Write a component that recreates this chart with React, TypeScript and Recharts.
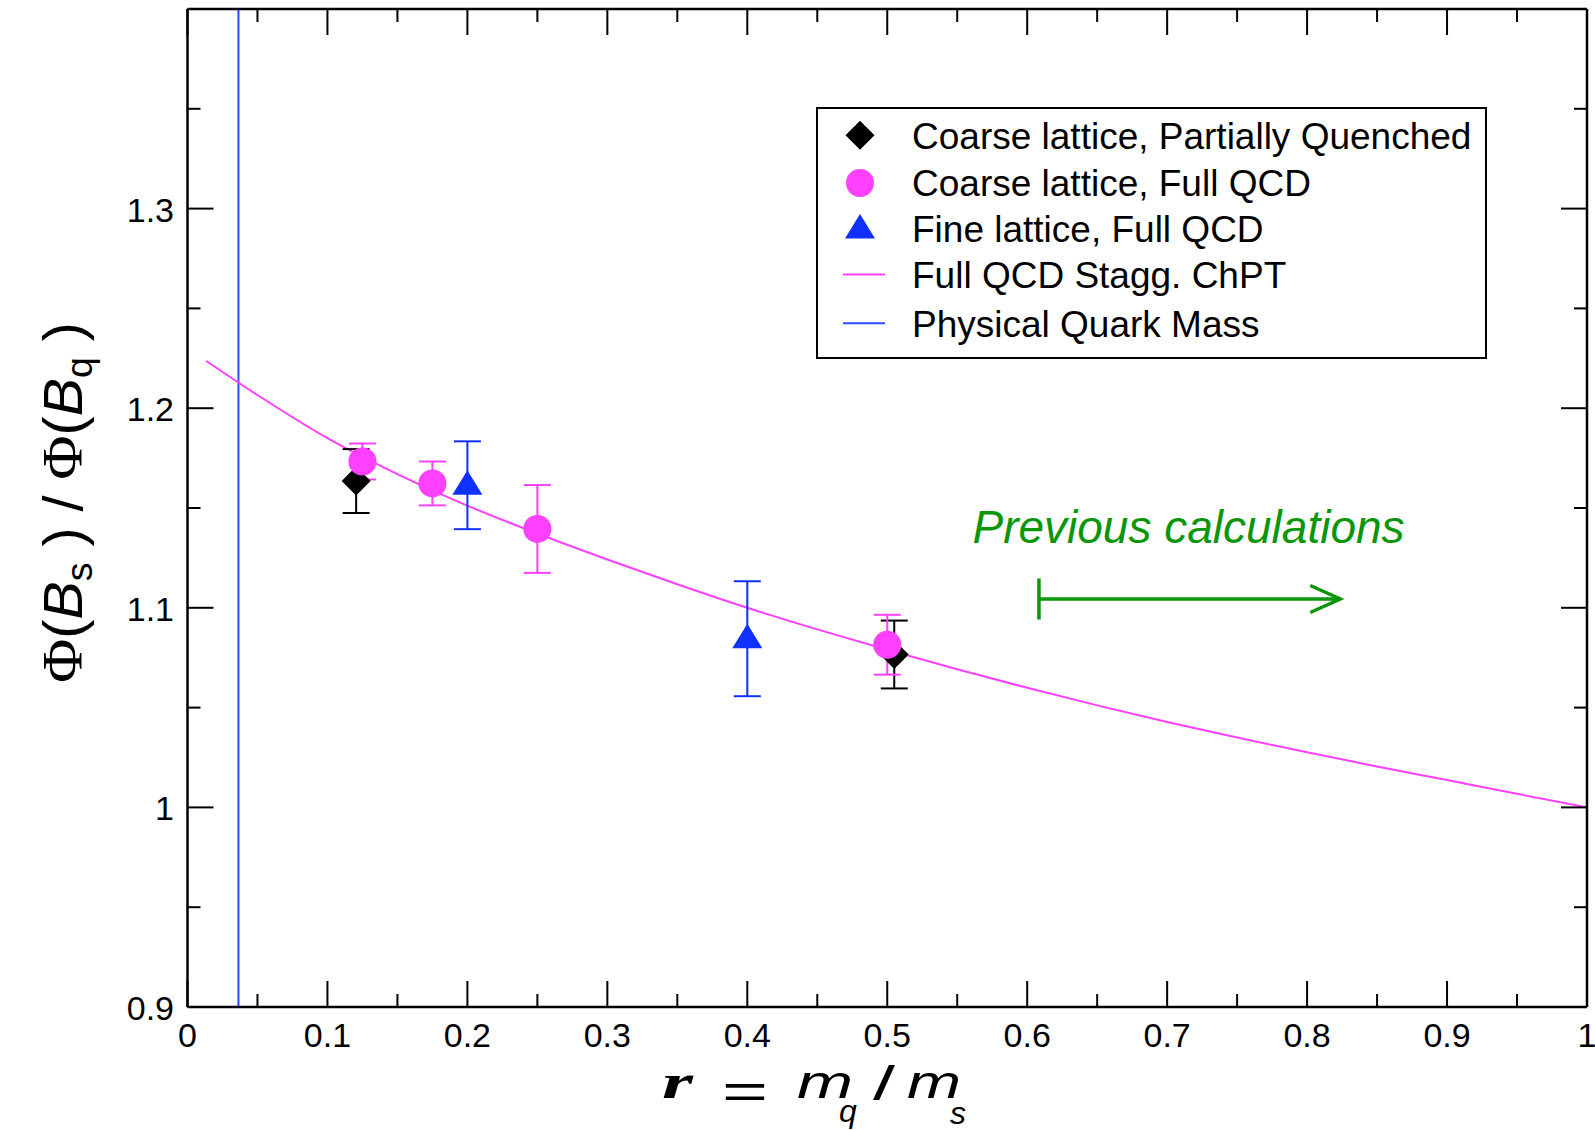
import React from 'react';
import {
  ComposedChart,
  XAxis,
  YAxis,
  Line,
  Scatter,
  ErrorBar,
  ReferenceLine,
  ReferenceDot,
} from 'recharts';

// ---------- data ----------
const xTicks = [0, 0.05, 0.1, 0.15, 0.2, 0.25, 0.3, 0.35, 0.4, 0.45, 0.5, 0.55, 0.6, 0.65, 0.7, 0.75, 0.8, 0.85, 0.9, 0.95, 1];
const xTickLabels = ['0', '0.1', '0.2', '0.3', '0.4', '0.5', '0.6', '0.7', '0.8', '0.9', '1'];
const yTicks = [0.9, 0.95, 1, 1.05, 1.1, 1.15, 1.2, 1.25, 1.3, 1.35, 1.4];
const yTickLabels = ['0.9', '1', '1.1', '1.2', '1.3'];

// Coarse lattice, Partially Quenched
const pqR = [0.1205, 0.505];
const pqY = [1.1635, 1.0766];
const pqErr = [0.016, 0.017];

// Coarse lattice, Full QCD
const fullR = [0.125, 0.175, 0.25, 0.5];
const fullY = [1.1733, 1.1623, 1.1395, 1.0815];
const fullErr = [0.009, 0.011, 0.022, 0.015];

// Fine lattice, Full QCD
const fineR = [0.2, 0.4];
const fineY = [1.1614, 1.0845];
const fineErr = [0.022, 0.0288];

// Full QCD Stagg. ChPT fit curve
const fitR = [0.0134, 0.05, 0.1, 0.15, 0.2, 0.25, 0.3, 0.35, 0.4, 0.45, 0.5, 0.55, 0.6, 0.65, 0.7, 0.75, 0.8, 0.85, 0.9, 0.95, 1.0];
const fitY = [1.2237, 1.2066, 1.185, 1.167, 1.1512, 1.1372, 1.1242, 1.1118, 1.1, 1.0892, 1.079, 1.0692, 1.0599, 1.0511, 1.0428, 1.035, 1.0276, 1.0205, 1.0137, 1.0068, 1.0];

// Physical quark mass
const physR = 0.0364;

// Previous calculations annotation
const prevStartR = 0.6084;
const prevEndR = 0.8237;
const prevY = 1.1044;
const prevTextR = 0.5609;
const prevTextY = 1.1325;

// ---------- build tables ----------
const pqData = pqR.map((r, i) => ({ r, y: pqY[i], err: pqErr[i] }));
const fullData = fullR.map((r, i) => ({ r, y: fullY[i], err: fullErr[i] }));
const fineData = fineR.map((r, i) => ({ r, y: fineY[i], err: fineErr[i] }));
const fitData = fitR.map((r, i) => ({ r, y: fitY[i] }));

const PINK = '#ff40ff';
const BLUE = '#1030ff';
const VBLUE = '#2b4cff';
const GREEN = '#0a960a';
const FONT = '"Liberation Sans", Arial, Helvetica, sans-serif';
const SERIF = '"Liberation Serif", "Times New Roman", serif';

const isMajor = (v: number) => Math.round(v * 100) % 10 === 0;
const xLabelOf = (v: number) => xTickLabels[Math.round(v * 10)];
const yLabelOf = (v: number) => {
  const idx = Math.round((v - 0.9) * 10);
  return idx >= 0 && idx < yTickLabels.length ? yTickLabels[idx] : '';
};

const MAJ = 26;
const MIN = 13;

const BottomTick = (props: any) => {
  const { x, y, payload } = props;
  const v = payload.value;
  const major = isMajor(v);
  return (
    <g>
      <line x1={x} x2={x} y1={y} y2={y - (major ? MAJ : MIN)} stroke="#000" strokeWidth={2} />
      {major && (
        <text x={x} y={y + 40} textAnchor="middle" fontSize={34} fontFamily={FONT} fill="#000">
          {xLabelOf(v)}
        </text>
      )}
    </g>
  );
};

const TopTick = (props: any) => {
  const { x, y, payload } = props;
  const major = isMajor(payload.value);
  return <line x1={x} x2={x} y1={y} y2={y + (major ? MAJ : MIN)} stroke="#000" strokeWidth={2} />;
};

const LeftTick = (props: any) => {
  const { x, y, payload } = props;
  const v = payload.value;
  const major = isMajor(v);
  return (
    <g>
      <line x1={x} x2={x + (major ? MAJ : MIN)} y1={y} y2={y} stroke="#000" strokeWidth={2} />
      {major && (
        <text x={x - 13.5} y={y + 13} textAnchor="end" fontSize={34} fontFamily={FONT} fill="#000">
          {yLabelOf(v)}
        </text>
      )}
    </g>
  );
};

const RightTick = (props: any) => {
  const { x, y, payload } = props;
  const major = isMajor(payload.value);
  return <line x1={x} x2={x - (major ? MAJ : MIN)} y1={y} y2={y} stroke="#000" strokeWidth={2} />;
};

const Diamond = (props: any) => {
  const { cx, cy } = props;
  const h = 14.5;
  return <path d={`M${cx},${cy - h}L${cx + h},${cy}L${cx},${cy + h}L${cx - h},${cy}Z`} fill="#000" />;
};
const Dot = (props: any) => <circle cx={props.cx} cy={props.cy} r={14} fill={PINK} />;
const Tri = (props: any) => {
  const { cx, cy } = props;
  return <path d={`M${cx},${cy - 15}L${cx + 15},${cy + 9.5}L${cx - 15},${cy + 9.5}Z`} fill={BLUE} />;
};

const BarStart = (props: any) => (
  <line x1={props.cx} x2={props.cx} y1={props.cy - 20.5} y2={props.cy + 20.5} stroke={GREEN} strokeWidth={3.5} />
);
const ArrowHead = (props: any) => {
  const { cx, cy } = props;
  return (
    <path
      d={`M${cx - 30},${cy - 13.5}L${cx},${cy}L${cx - 30},${cy + 13.5}`}
      fill="none"
      stroke={GREEN}
      strokeWidth={3.5}
    />
  );
};
const PrevText = (props: any) => (
  <text x={props.cx} y={props.cy} fontSize={46} fontStyle="italic" fontFamily={FONT} fill={GREEN}>
    Previous calculations
  </text>
);

const Legend = () => {
  const rows = [135.3, 183, 229, 274.6, 323.3];
  const tx = 912;
  const fs = 37;
  const labels = [
    'Coarse lattice, Partially Quenched',
    'Coarse lattice, Full QCD',
    'Fine lattice, Full QCD',
    'Full QCD Stagg. ChPT',
    'Physical Quark Mass',
  ];
  return (
    <g>
      <rect x={817} y={108} width={669} height={250} fill="#fff" stroke="#000" strokeWidth={2} />
      <path d={`M860,${rows[0] - 14.5}L874.5,${rows[0]}L860,${rows[0] + 14.5}L845.5,${rows[0]}Z`} fill="#000" />
      <circle cx={860} cy={rows[1]} r={14} fill={PINK} />
      <path d={`M860,${rows[2] - 15}L875,${rows[2] + 9.5}L845,${rows[2] + 9.5}Z`} fill={BLUE} />
      <line x1={843} x2={885} y1={rows[3]} y2={rows[3]} stroke={PINK} strokeWidth={2} />
      <line x1={843} x2={885} y1={rows[4]} y2={rows[4]} stroke={VBLUE} strokeWidth={2} />
      {labels.map((l, i) => (
        <text key={l} x={tx} y={rows[i] + 13.2} fontSize={fs} fontFamily={FONT} fill="#000">
          {l}
        </text>
      ))}
    </g>
  );
};

const AxisLabels = () => (
  <g fill="#000">
    {/* y label */}
    <g transform="translate(82,502.5) rotate(-90)">
      <text x={0} y={0} textAnchor="middle" fontSize={55} fontFamily={FONT} textLength={361} lengthAdjust="spacingAndGlyphs">
        <tspan fontFamily={SERIF} fontSize={58}>Φ</tspan>
        <tspan>(</tspan>
        <tspan fontStyle="italic">B</tspan>
        <tspan fontSize={36} dy={10}>s</tspan>
        <tspan dy={-10}>{' ) / '}</tspan>
        <tspan fontFamily={SERIF} fontSize={58}>Φ</tspan>
        <tspan>(</tspan>
        <tspan fontStyle="italic">B</tspan>
        <tspan fontSize={36} dy={10}>q</tspan>
        <tspan dy={-10}>{' )'}</tspan>
      </text>
    </g>
    {/* x label */}
    <text x={662} y={1098} fontSize={48} fontStyle="italic" fontWeight="bold" fontFamily={SERIF} textLength={31} lengthAdjust="spacingAndGlyphs">r</text>
    <text x={722} y={1108} fontSize={50} fontFamily={FONT} textLength={46} lengthAdjust="spacingAndGlyphs">=</text>
    <text x={797} y={1098} fontSize={47} fontStyle="italic" fontFamily={FONT} textLength={56} lengthAdjust="spacingAndGlyphs">m</text>
    <text x={839} y={1122} fontSize={32} fontStyle="italic" fontFamily={FONT}>q</text>
    <text x={873} y={1100} fontSize={48} fontFamily={FONT} textLength={22} lengthAdjust="spacingAndGlyphs">/</text>
    <text x={907} y={1098} fontSize={47} fontStyle="italic" fontFamily={FONT} textLength={54} lengthAdjust="spacingAndGlyphs">m</text>
    <text x={950} y={1124} fontSize={32} fontStyle="italic" fontFamily={FONT}>s</text>
  </g>
);

export default function App() {
  return (
    <div style={{ position: 'absolute', left: 0, top: 0, width: 1595, height: 1130, background: '#fff' }}>
      <ComposedChart
        width={1595}
        height={1130}
        margin={{ top: 8, right: 7, left: 0, bottom: 0 }}
        style={{ position: 'absolute', left: 0, top: 0 }}
      >
        <XAxis
          xAxisId="b"
          dataKey="r"
          type="number"
          domain={[0, 1]}
          ticks={xTicks}
          interval={0}
          tickSize={0}
          tickMargin={0}
          tickLine={false}
          tick={<BottomTick />}
          axisLine={{ stroke: '#000', strokeWidth: 2.5 }}
          height={123}
          allowDataOverflow
        />
        <XAxis
          xAxisId="t"
          orientation="top"
          dataKey="r"
          type="number"
          domain={[0, 1]}
          ticks={xTicks}
          interval={0}
          tickSize={0}
          tickMargin={0}
          tickLine={false}
          tick={<TopTick />}
          axisLine={{ stroke: '#000', strokeWidth: 2.5 }}
          height={1}
          allowDataOverflow
        />
        <YAxis
          yAxisId="l"
          type="number"
          domain={[0.9, 1.4]}
          ticks={yTicks}
          interval={0}
          tickSize={0}
          tickMargin={0}
          tickLine={false}
          tick={<LeftTick />}
          axisLine={{ stroke: '#000', strokeWidth: 2.5 }}
          width={187.5}
          allowDataOverflow
        />
        <YAxis
          yAxisId="rt"
          orientation="right"
          type="number"
          domain={[0.9, 1.4]}
          ticks={yTicks}
          interval={0}
          tickSize={0}
          tickMargin={0}
          tickLine={false}
          tick={<RightTick />}
          axisLine={{ stroke: '#000', strokeWidth: 2.5 }}
          width={1}
          allowDataOverflow
        />

        <ReferenceLine xAxisId="b" yAxisId="l" x={physR} stroke={VBLUE} strokeWidth={2} />

        <Line
          xAxisId="b"
          yAxisId="l"
          data={fitData}
          dataKey="y"
          type="monotone"
          dot={false}
          activeDot={false}
          stroke={PINK}
          strokeWidth={2}
          isAnimationActive={false}
        />
        <Line
          xAxisId="t"
          yAxisId="rt"
          data={fitData}
          dataKey="y"
          type="monotone"
          dot={false}
          activeDot={false}
          stroke="none"
          strokeWidth={0}
          legendType="none"
          isAnimationActive={false}
        />

        <Scatter xAxisId="b" yAxisId="l" data={pqData} dataKey="y" shape={<Diamond />} isAnimationActive={false}>
          <ErrorBar dataKey="err" direction="y" width={13.5} stroke="#000" strokeWidth={2} isAnimationActive={false} />
        </Scatter>
        <Scatter xAxisId="b" yAxisId="l" data={fullData} dataKey="y" shape={<Dot />} isAnimationActive={false}>
          <ErrorBar dataKey="err" direction="y" width={13.5} stroke={PINK} strokeWidth={2} isAnimationActive={false} />
        </Scatter>
        <Scatter xAxisId="b" yAxisId="l" data={fineData} dataKey="y" shape={<Tri />} isAnimationActive={false}>
          <ErrorBar dataKey="err" direction="y" width={13.5} stroke={BLUE} strokeWidth={2} isAnimationActive={false} />
        </Scatter>

        <ReferenceLine
          xAxisId="b"
          yAxisId="l"
          segment={[
            { x: prevStartR, y: prevY },
            { x: prevEndR, y: prevY },
          ]}
          stroke={GREEN}
          strokeWidth={3.5}
        />
        <ReferenceDot xAxisId="b" yAxisId="l" x={prevStartR} y={prevY} shape={<BarStart />} />
        <ReferenceDot xAxisId="b" yAxisId="l" x={prevEndR} y={prevY} shape={<ArrowHead />} />
        <ReferenceDot xAxisId="b" yAxisId="l" x={prevTextR} y={prevTextY} shape={<PrevText />} />
      </ComposedChart>
      <svg
        width={1595}
        height={1130}
        style={{ position: 'absolute', left: 0, top: 0, pointerEvents: 'none' }}
      >
        <Legend />
        <AxisLabels />
      </svg>
    </div>
  );
}
